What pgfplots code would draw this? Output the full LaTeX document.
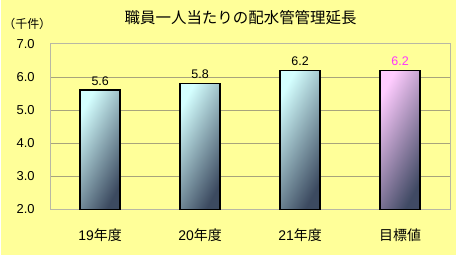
\documentclass[border=0pt]{standalone}
\usepackage{fontspec}
\setmainfont{Liberation Sans}
\newfontfamily\jp{Noto Sans CJK JP}
\usepackage{pgfplots}
\pgfplotsset{compat=1.18}
\definecolor{bg}{HTML}{FFFF99}
\definecolor{gridc}{HTML}{A8A47C}
\definecolor{framec}{HTML}{B8B8A4}
\definecolor{barlight}{HTML}{D4FFFF}
\definecolor{bardark}{HTML}{3C4A60}
\definecolor{pinklight}{HTML}{FFCCFF}
\definecolor{pinkdark}{HTML}{404A64}
\definecolor{labmag}{HTML}{FF33FF}
\begin{document}
\begin{tikzpicture}[x=1pt,y=1pt]
\fill[bg] (0,0) rectangle (456,256);
\node[font=\jp\fontsize{15.5}{15.5}\selectfont] at (240,238) {職員一人当たりの配水管管理延長};
\node[font=\jp\fontsize{12}{12}\selectfont] at (26,232) {（千件）};
\begin{axis}[
  at={(49pt,46pt)}, anchor=south west,
  scale only axis, width=401pt, height=166pt,
  ymin=2, ymax=7, ytick={2,3,4,5,6,7},
  xmin=-0.5, xmax=3.5,
  xtick={0,1,2,3},
  xticklabels={19{\jp 年度},20{\jp 年度},21{\jp 年度},{\jp 目標値}},
  extra x ticks={0.5,1.5,2.5},
  extra x tick labels={},
  extra x tick style={major tick length=3pt, tick style={draw=gridc}, grid=none},
  major x tick style={draw=none},
  major y tick style={draw=none},
  ymajorgrids, grid style={gridc, line width=0.8pt},
  axis line style={framec, line width=0.8pt},
  /pgf/number format/assume math mode=true,
  yticklabel style={/pgf/number format/fixed, /pgf/number format/fixed zerofill, /pgf/number format/precision=1, font=\fontsize{13}{13}\selectfont, xshift=-12pt},
  xticklabel style={font=\fontsize{14}{14}\selectfont, yshift=-12pt},
  ybar, bar width=40pt,
  lab/.style={nodes near coords, nodes near coords style={font=\fontsize{12.5}{12.5}\selectfont, /pgf/number format/fixed, /pgf/number format/fixed zerofill, /pgf/number format/precision=1, yshift=1pt}},
  cyanbar/.style={bar shift=0pt, draw=none, top color=barlight, bottom color=bardark, shading angle=62},
]
\addplot[cyanbar, lab] coordinates {(0,5.6)};
\addplot[cyanbar, lab] coordinates {(1,5.8)};
\addplot[cyanbar, lab] coordinates {(2,6.2)};
\addplot[bar shift=0pt, draw=none, top color=pinklight, bottom color=pinkdark, shading angle=62, lab, nodes near coords style={text=labmag}] coordinates {(3,6.2)};
\addplot[bar shift=0pt, draw=black, fill=none, line width=1.5pt] coordinates {(0,5.6) (1,5.8) (2,6.2) (3,6.2)};
\end{axis}
\end{tikzpicture}
\end{document}
